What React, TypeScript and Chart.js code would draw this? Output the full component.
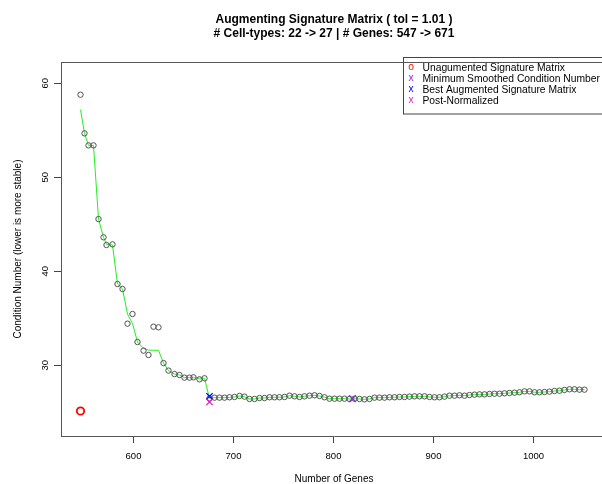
import React, { useEffect, useRef } from "react";
import { Chart, registerables } from "chart.js";

Chart.register(...registerables);

// ---------- text ----------
const TITLE = [
  "Augmenting Signature Matrix ( tol = 1.01 )",
  "# Cell-types: 22 -> 27 | # Genes: 547 -> 671",
];
const X_TITLE = "Number of Genes";
const Y_TITLE = "Condition Number (lower is more stable)";

// ---------- ticks ----------
const xTicks = [600, 700, 800, 900, 1000];
const yTicks = [30, 40, 50, 60];

// ---------- data ----------
const geneCounts = [
  547, 551, 555, 560, 565, 570, 573, 579, 584, 589, 594, 599, 604, 610, 615, 620, 625, 630, 635, 641,
  646, 651, 656, 660, 666, 671, 676,
  681, 686, 691, 696, 701, 706, 711, 716, 721, 726, 731, 736, 741, 746, 751, 756, 761, 766, 771, 776,
  781, 786, 791, 796, 801, 806, 811, 816, 821, 826, 831, 836, 841, 846, 851, 856, 861, 866, 871, 876,
  881, 886, 891, 896, 901, 906, 911, 916, 921, 926, 931, 936, 941, 946, 951, 956, 961, 966, 971, 976,
  981, 986, 991, 996, 1001, 1006, 1011, 1016, 1021, 1026, 1031, 1036, 1041, 1046, 1051,
];

const conditionHead = [
  58.79, 54.68, 53.4, 53.4, 45.56, 43.62, 42.8, 42.87, 38.65, 38.12, 34.43, 35.46, 32.48, 31.56, 31.1,
  34.11, 34.04, 30.24, 29.44, 29.07, 28.97, 28.69, 28.69, 28.72, 28.51, 28.62, 26.49,
];
const conditionTail = [
  26.56, 26.56, 26.56, 26.6, 26.63, 26.74, 26.67, 26.42, 26.42, 26.52,
  26.52, 26.6, 26.6, 26.6, 26.63, 26.77, 26.7, 26.63, 26.7, 26.77,
  26.81, 26.74, 26.6, 26.45, 26.45, 26.45, 26.45, 26.42, 26.45, 26.42,
  26.38, 26.42, 26.56, 26.56, 26.56, 26.6, 26.6, 26.63, 26.63, 26.67,
  26.7, 26.7, 26.7, 26.63, 26.6, 26.6, 26.67, 26.77, 26.77, 26.81,
  26.77, 26.84, 26.88, 26.91, 26.91, 26.95, 26.98, 26.98, 27.02, 27.06,
  27.09, 27.13, 27.23, 27.23, 27.13, 27.13, 27.16, 27.2, 27.27, 27.3,
  27.38, 27.45, 27.45, 27.41, 27.41,
];
const conditionNumbers = [...conditionHead, ...conditionTail];

// smoothed curve (green line); in the flat part it follows the points
const smoothedHead = [
  57.2, 54.68, 53.4, 53.4, 45.56, 43.62, 42.87, 42.8, 38.65, 38.12, 35.46, 34.43, 32.48, 31.8, 31.62,
  31.6, 31.6, 30.24, 29.44, 29.07, 28.97, 28.69, 28.69, 28.69, 28.62, 28.62, 26.49,
];
const smoothed = [...smoothedHead, ...conditionTail];

const unaugmented = { genes: 547, value: 25.14 };
const minSmoothed = { genes: 819, value: 26.45 };
const bestAugmented = { genes: 676, value: 26.7 };
const postNormalized = { genes: 676, value: 26.1 };

const LEGEND_ITEMS = [
  { symbol: "o", color: "#ff0000", label: "Unagumented Signature Matrix" },
  { symbol: "x", color: "#a020f0", label: "Minimum Smoothed Condition Number" },
  { symbol: "x", color: "#0000ff", label: "Best Augmented Signature Matrix" },
  { symbol: "x", color: "#e81ec4", label: "Post-Normalized" },
];

const FONT = '"Liberation Sans", Arial, Helvetica, sans-serif';

// the R plot box extends a few pixels past the right edge of the 602px picture
const CANVAS_W = 607;
const CANVAS_H = 484;

const frameAndLegend = {
  id: "frameAndLegend",
  afterDraw(chart: any) {
    const { ctx, chartArea } = chart;
    ctx.save();
    // top edge of the plot box
    ctx.strokeStyle = "#555";
    ctx.lineWidth = 1;
    ctx.beginPath();
    ctx.moveTo(chartArea.left, Math.round(chartArea.top) + 0.5);
    ctx.lineTo(chartArea.right, Math.round(chartArea.top) + 0.5);
    ctx.stroke();
    // legend
    ctx.strokeStyle = "#444";
    ctx.strokeRect(403.5, 57.5, 260, 56.5);
    ctx.font = "10.3px " + FONT;
    ctx.textBaseline = "middle";
    LEGEND_ITEMS.forEach((item, i) => {
      const y = 67.8 + i * 11;
      ctx.fillStyle = item.color;
      ctx.textAlign = "center";
      ctx.fillText(item.symbol, 411, y - 0.5);
      ctx.fillStyle = "#000";
      ctx.textAlign = "left";
      ctx.fillText(item.label, 422.5, y);
    });
    ctx.restore();
  },
};

export default function App() {
  const canvasRef = useRef<HTMLCanvasElement | null>(null);

  useEffect(() => {
    document.body.style.margin = "0";
    const canvas = canvasRef.current;
    if (!canvas) return;
    Chart.defaults.font.family = FONT;
    Chart.defaults.color = "#000";

    const pts = (xs: number[], ys: number[]) => xs.map((x, i) => ({ x, y: ys[i] }));

    const chart = new Chart(canvas, {
      type: "scatter",
      data: {
        datasets: [
          {
            label: "Post-Normalized",
            data: [{ x: postNormalized.genes, y: postNormalized.value }],
            pointStyle: "crossRot",
            pointRadius: 4.5,
            borderColor: "#e81ec4",
            borderWidth: 1.3,
            order: 0,
          },
          {
            label: "Best Augmented Signature Matrix",
            data: [{ x: bestAugmented.genes, y: bestAugmented.value }],
            pointStyle: "crossRot",
            pointRadius: 4.5,
            borderColor: "#0000ff",
            borderWidth: 1.3,
            order: 1,
          },
          {
            label: "Minimum Smoothed Condition Number",
            data: [{ x: minSmoothed.genes, y: minSmoothed.value }],
            pointStyle: "crossRot",
            pointRadius: 4.8,
            borderColor: "#a020f0",
            borderWidth: 1.3,
            order: 2,
          },
          {
            label: "Unagumented Signature Matrix",
            data: [{ x: unaugmented.genes, y: unaugmented.value }],
            pointStyle: "circle",
            pointRadius: 3.7,
            borderColor: "#ff0000",
            backgroundColor: "rgba(0,0,0,0)",
            borderWidth: 1.8,
            order: 3,
          },
          {
            label: "Condition Number",
            data: pts(geneCounts, conditionNumbers),
            pointStyle: "circle",
            pointRadius: 2.7,
            borderColor: "#505050",
            backgroundColor: "rgba(0,0,0,0)",
            borderWidth: 1,
            order: 4,
          },
          {
            label: "Smoothed",
            data: pts(geneCounts, smoothed),
            showLine: true,
            pointRadius: 0,
            borderColor: "#22ee22",
            borderWidth: 1,
            tension: 0,
            order: 5,
          },
        ],
      },
      options: {
        animation: false,
        responsive: false,
        events: [],
        layout: { autoPadding: false, padding: { left: 0, right: 0, top: 0, bottom: 0 } },
        plugins: {
          legend: { display: false },
          tooltip: { enabled: false },
          title: {
            display: true,
            text: TITLE,
            fullSize: false,
            color: "#000",
            font: { size: 12, weight: "bold", lineHeight: 14 / 12 },
            padding: { top: 12.8, bottom: 21.2 },
          },
        },
        scales: {
          x: {
            type: "linear",
            min: 527.5,
            max: 1073.5,
            afterFit: (s: any) => {
              s.height = 48;
              s.paddingLeft = 0;
              s.paddingRight = 0;
            },
            afterBuildTicks: (s: any) => {
              s.ticks = xTicks.map((v) => ({ value: v }));
            },
            grid: {
              drawOnChartArea: false,
              drawTicks: true,
              tickLength: 7,
              tickColor: "#444",
            },
            border: { display: true, color: "#555", width: 1 },
            ticks: {
              font: { size: 9.5 },
              color: "#000",
              padding: 7.3,
              maxRotation: 0,
              callback: (v: any) => String(v),
            },
            title: {
              display: true,
              text: X_TITLE,
              color: "#000",
              font: { size: 10 },
              padding: { top: 0, bottom: -1 },
            },
          },
          y: {
            type: "linear",
            min: 22.48,
            max: 62.27,
            afterFit: (s: any) => {
              s.width = 61;
              s.paddingLeft = 0;
              s.paddingRight = 0;
            },
            afterBuildTicks: (s: any) => {
              s.ticks = yTicks.map((v) => ({ value: v }));
            },
            grid: {
              drawOnChartArea: false,
              drawTicks: true,
              tickLength: 7,
              tickColor: "#444",
            },
            border: { display: true, color: "#555", width: 1 },
            ticks: {
              font: { size: 9.5 },
              color: "#000",
              padding: 3,
              minRotation: 90,
              maxRotation: 90,
              crossAlign: "center",
              callback: (v: any) => String(v),
            },
            title: {
              display: true,
              text: Y_TITLE,
              color: "#000",
              font: { size: 10 },
              padding: { top: 12, bottom: 0 },
            },
          },
        },
      },
      plugins: [frameAndLegend],
    } as any);

    return () => chart.destroy();
  }, []);

  return (
    <div style={{ width: 602, height: CANVAS_H, overflow: "hidden", position: "relative" }}>
      <canvas
        ref={canvasRef}
        width={CANVAS_W}
        height={CANVAS_H}
        style={{ display: "block", width: CANVAS_W, height: CANVAS_H }}
      />
    </div>
  );
}
